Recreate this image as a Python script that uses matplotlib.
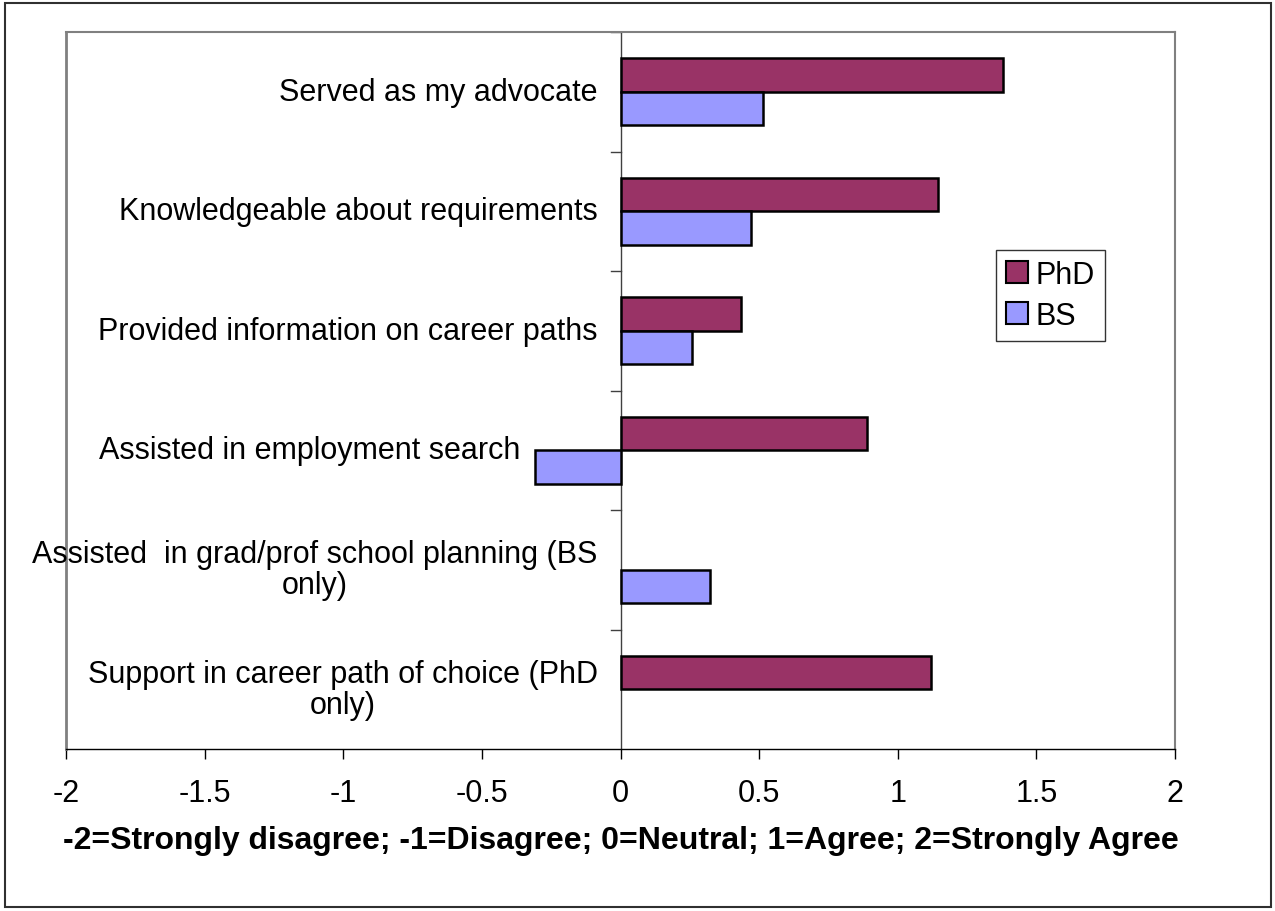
import numpy as np
import matplotlib
matplotlib.use('Agg')
import matplotlib.pyplot as plt
from matplotlib.patches import Rectangle
from matplotlib.transforms import offset_copy

plt.rcParams['font.family'] = ['Liberation Sans', 'DejaVu Sans']

categories = ['Served as my advocate',
              'Knowledgeable about requirements',
              'Provided information on career paths',
              'Assisted in employment search',
              'Assisted  in grad/prof school planning (BS\nonly)',
              'Support in career path of choice (PhD\nonly)']
phd = [1.38, 1.145, 0.435, 0.89, np.nan, 1.12]
bs = [0.513, 0.47, 0.258, -0.307, 0.324, np.nan]
xticks = [-2, -1.5, -1, -0.5, 0, 0.5, 1, 1.5, 2]
xticklabels = ['-2', '-1.5', '-1', '-0.5', '0', '0.5', '1', '1.5', '2']

W, H = 1275, 912
fig = plt.figure(figsize=(W / 100, H / 100), dpi=100)
# outer chart border
fig.add_artist(Rectangle((5 / W, 4 / H), (1271 - 5) / W, (908 - 4) / H,
                         transform=fig.transFigure, fill=False,
                         edgecolor='#303030', linewidth=1.5))
ax = fig.add_axes([66 / W, 1 - 750 / H, (1175 - 66) / W, (750 - 33) / H])

y = np.arange(len(categories))
h = 0.28
ax.barh(y - h / 2, phd, height=h, color='#993366', edgecolor='black', linewidth=1.8, label='PhD', zorder=3)
ax.barh(y + h / 2, bs, height=h, color='#9999FF', edgecolor='black', linewidth=1.8, label='BS', zorder=3)

ax.set_xlim(-2, 2)
ax.set_ylim(len(categories) - 0.5, -0.5)
ax.set_xticks(xticks)
ax.set_xticklabels(xticklabels, fontsize=22)
ax.tick_params(axis='x', direction='out', length=7, width=1, pad=14, color='black')

# y axis sits at zero, ticks on category boundaries
ax.spines['left'].set_visible(False)
ax.axvline(0, color='#404040', linewidth=1, zorder=2)
ax.set_yticks([])
for b in np.arange(len(categories)) - 0.5:
    ax.plot([-0.036, 0], [b, b], color='#404040', linewidth=1, clip_on=False)

for s in ['top', 'right']:
    ax.spines[s].set_color('#808080')
    ax.spines[s].set_linewidth(1.5)
ax.plot([0, 0], [0, 1], transform=ax.transAxes, color='#808080', linewidth=2, clip_on=False)
ax.spines['bottom'].set_color('black')
ax.spines['bottom'].set_linewidth(1)

for i, lab in enumerate(categories):
    vals = [v for v in (phd[i], bs[i]) if not np.isnan(v)]
    x0 = min([0] + vals)
    pad = 23 if x0 == 0 else 15
    tr = offset_copy(ax.transData, fig=fig, x=-pad, y=0, units='dots')
    ax.text(x0, i, lab, transform=tr, ha='right', va='center',
            multialignment='center', fontsize=22, linespacing=1.05)

ax.set_xlabel('-2=Strongly disagree; -1=Disagree; 0=Neutral; 1=Agree; 2=Strongly Agree',
              fontsize=23, fontweight='bold', labelpad=12)

leg = ax.legend(loc='upper left', bbox_to_anchor=(0.8386, 0.696), fontsize=22,
                frameon=True, fancybox=False, handlelength=0.72, handleheight=0.72,
                handletextpad=0.26, borderpad=0.32, labelspacing=0.36, borderaxespad=0)
leg.get_frame().set_edgecolor('black')
leg.get_frame().set_linewidth(1)
for p in leg.get_patches():
    p.set_linewidth(1.5)

fig.savefig('out.png', dpi=100)
